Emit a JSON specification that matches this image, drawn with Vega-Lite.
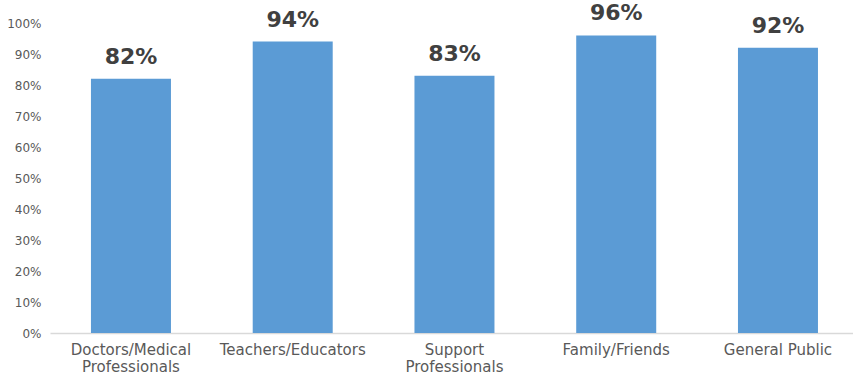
{
  "$schema": "https://vega.github.io/schema/vega-lite/v6.json",
  "autosize": "none",
  "width": 803,
  "height": 310,
  "padding": {"left": 50, "top": 23, "right": 0, "bottom": 43},
  "background": "white",
  "config": {"view": {"stroke": null}, "font": "DejaVu Sans"},
  "data": {
    "values": [
      {"group": "Doctors/Medical|Professionals", "share": 0.82},
      {"group": "Teachers/Educators", "share": 0.94},
      {"group": "Support|Professionals", "share": 0.83},
      {"group": "Family/Friends", "share": 0.96},
      {"group": "General Public", "share": 0.92}
    ]
  },
  "encoding": {
    "x": {
      "field": "group",
      "type": "nominal",
      "sort": null,
      "scale": {"paddingInner": 0.5054, "paddingOuter": 0.2349, "align": 0.539},
      "axis": {
        "title": null,
        "labelAngle": 0,
        "labelExpr": "split(datum.label, '|')",
        "labelFontSize": 15,
        "labelColor": "#595959",
        "labelPadding": 9,
        "labelLineHeight": 17,
        "labelOverlap": false,
        "ticks": false,
        "domainColor": "#d9d9d9",
        "domainWidth": 1.5
      }
    },
    "y": {
      "field": "share",
      "type": "quantitative",
      "scale": {"domain": [0, 1]},
      "axis": {
        "title": null,
        "format": ".0%",
        "values": [0, 0.1, 0.2, 0.3, 0.4, 0.5, 0.6, 0.7, 0.8, 0.9, 1],
        "labelOverlap": false,
        "grid": false,
        "domain": false,
        "ticks": false,
        "labelFontSize": 12,
        "labelColor": "#595959",
        "labelPadding": 9
      }
    }
  },
  "layer": [
    {"mark": {"type": "bar", "color": "#5B9BD5"}},
    {
      "mark": {"type": "text", "baseline": "bottom", "dy": -10, "fontSize": 22, "fontWeight": "bold", "color": "#404040"},
      "encoding": {"text": {"field": "share", "type": "quantitative", "format": ".0%"}}
    }
  ]
}
